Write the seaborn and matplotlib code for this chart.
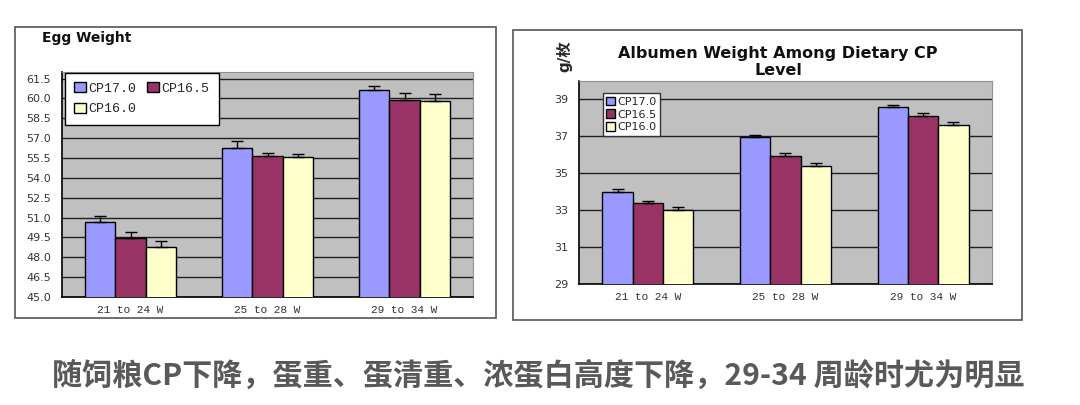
import numpy as np
import pandas as pd
import matplotlib
matplotlib.use("Agg")
import matplotlib.pyplot as plt
import seaborn as sns
from matplotlib.patches import Rectangle

# ---- data ----
periods = ["21 to 24 W", "25 to 28 W", "29 to 34 W"]
levels = ["CP17.0", "CP16.5", "CP16.0"]

egg_cp170 = [50.7, 56.25, 60.65]
egg_cp165 = [49.42, 55.62, 59.9]
egg_cp160 = [48.78, 55.55, 59.77]
egg_err_cp170 = [0.45, 0.55, 0.28]
egg_err_cp165 = [0.5, 0.27, 0.54]
egg_err_cp160 = [0.45, 0.27, 0.57]

alb_cp170 = [33.98, 36.96, 38.57]
alb_cp165 = [33.37, 35.96, 38.1]
alb_cp160 = [33.0, 35.39, 37.6]
alb_err_cp170 = [0.15, 0.12, 0.11]
alb_err_cp165 = [0.15, 0.14, 0.16]
alb_err_cp160 = [0.15, 0.16, 0.16]

egg_ticks = [45.0, 46.5, 48.0, 49.5, 51.0, 52.5, 54.0, 55.5, 57.0, 58.5, 60.0, 61.5]
alb_ticks = [29, 31, 33, 35, 37, 39]

caption = "随饲粮CP下降，蛋重、蛋清重、浓蛋白高度下降，29-34 周龄时尤为明显"

palette = {"CP17.0": "#9999FF", "CP16.5": "#993366", "CP16.0": "#FFFFCC"}


def long_table(v1, v2, v3, e1, e2, e3):
    rows = []
    for vals, errs, lev in zip([v1, v2, v3], [e1, e2, e3], levels):
        for p, v, e in zip(periods, vals, errs):
            rows.append({"period": p, "level": lev, "value": v, "err": e})
    return pd.DataFrame(rows)


egg = long_table(egg_cp170, egg_cp165, egg_cp160,
                 egg_err_cp170, egg_err_cp165, egg_err_cp160)
alb = long_table(alb_cp170, alb_cp165, alb_cp160,
                 alb_err_cp170, alb_err_cp165, alb_err_cp160)

sns.set_style("white")
plt.rcParams['font.family'] = ['DejaVu Sans', 'Noto Sans CJK SC']

fig = plt.figure(figsize=(10.8, 4.05), dpi=100)
fig.patch.set_facecolor("white")

# chart frames
fig.patches.append(Rectangle((0.0139, 0.2148), 0.4454, 0.7185, transform=fig.transFigure,
                             fill=False, edgecolor="#555555", linewidth=1.2))
fig.patches.append(Rectangle((0.475, 0.2099), 0.4713, 0.716, transform=fig.transFigure,
                             fill=False, edgecolor="#555555", linewidth=1.2))


def draw(ax, df, ylim, ticks, fmt, tick_font):
    sns.barplot(data=df, x="period", y="value", hue="level", order=periods,
                hue_order=levels, palette=palette, width=0.66, errorbar=None,
                edgecolor="black", linewidth=1, saturation=1, ax=ax, zorder=3)
    # upward error bars
    for cont, lev in zip(ax.containers, levels):
        sub = df[df["level"] == lev].set_index("period").loc[periods]
        xs = [b.get_x() + b.get_width() / 2 for b in cont]
        hs = [b.get_height() for b in cont]
        ax.errorbar(xs, hs, yerr=[np.zeros(len(xs)), sub["err"].values], fmt="none",
                    ecolor="black", elinewidth=1, capsize=4, capthick=1, zorder=4)
    ax.set_facecolor("#C0C0C0")
    ax.set_ylim(*ylim)
    ax.set_xlim(-0.5, 2.5)
    ax.set_yticks(ticks)
    ax.set_yticklabels([fmt.format(t) for t in ticks], fontsize=8, color="#333333",
                       family=tick_font)
    ax.set_xticks(range(3))
    ax.set_xticklabels(periods, fontsize=8, family="Liberation Mono", color="#333333")
    ax.set_xticks([0.5, 1.5], minor=True)
    ax.tick_params(axis="x", which="major", length=0, pad=6)
    ax.tick_params(axis="x", which="minor", length=4, direction="in", color="black")
    ax.tick_params(axis="y", length=3, direction="in", color="black", pad=8)
    ax.yaxis.grid(True, color="#202020", linewidth=1)
    ax.set_axisbelow(True)
    for s in ["top", "right"]:
        ax.spines[s].set_color("#909090")
    for s in ["left", "bottom"]:
        ax.spines[s].set_color("black")
        ax.spines[s].set_linewidth(1.2)
    ax.set_xlabel("")
    ax.set_ylabel("")


# ---- Egg weight ----
ax1 = fig.add_axes([0.0574, 0.2667, 0.3806, 0.5556])
draw(ax1, egg, (45, 62), egg_ticks, "{:.1f}", "DejaVu Sans")
h, l = ax1.get_legend_handles_labels()
leg1 = ax1.legend([h[0], h[2], h[1]], [l[0], l[2], l[1]], ncol=2, loc="upper left",
                  bbox_to_anchor=(0.007, 0.996), borderaxespad=0, frameon=True,
                  fancybox=False, edgecolor="black", framealpha=1,
                  prop={"family": "Liberation Mono", "size": 9.5},
                  handlelength=0.9, handleheight=0.8, handletextpad=0.2,
                  columnspacing=0.8, borderpad=0.7, labelspacing=0.6)
leg1.get_frame().set_linewidth(1)
leg1.set_zorder(10)
fig.text(0.039, 0.905, "Egg Weight", fontsize=10, weight="bold", ha="left", va="center",
         color="#111111")

# ---- Albumen weight ----
ax2 = fig.add_axes([0.5361, 0.2988, 0.3824, 0.5012])
draw(ax2, alb, (29, 40), alb_ticks, "{:d}", "DejaVu Sans")
h, l = ax2.get_legend_handles_labels()
leg2 = ax2.legend(h, l, loc="upper left", bbox_to_anchor=(0.058, 0.94), borderaxespad=0,
                  frameon=True, fancybox=False, edgecolor="#333333", framealpha=1,
                  prop={"family": "DejaVu Sans", "size": 8},
                  handlelength=0.8, handleheight=0.8, handletextpad=0.2,
                  borderpad=0.3, labelspacing=0.25)
leg2.get_frame().set_linewidth(1)
leg2.set_zorder(10)
fig.text(0.7205, 0.847, "Albumen Weight Among Dietary CP\nLevel", fontsize=11.5,
         weight="bold", ha="center", va="center", linespacing=1.15, color="#111111")
fig.text(0.523, 0.862, "g/枚", fontsize=11, weight="bold", rotation=90, ha="center",
         va="center", family=["DejaVu Sans", "Noto Sans CJK SC"])

# ---- caption ----
fig.text(0.498, 0.072, caption, fontsize=21.7, weight="bold", ha="center", va="center",
         color="#595959", family=["Noto Sans CJK SC", "DejaVu Sans"])

fig.savefig("out.png", dpi=100, facecolor="white")
